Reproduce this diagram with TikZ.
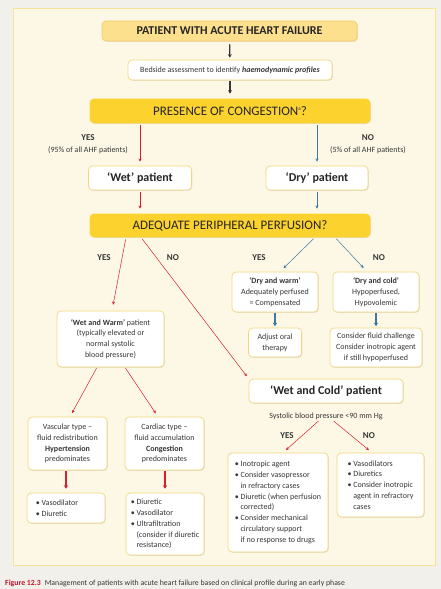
\documentclass[tikz,border=0pt]{standalone}
\usepackage{fontspec}
\setmainfont{Carlito}
\usetikzlibrary{calc, positioning, shadows, arrows.meta}

\definecolor{outerbg}{HTML}{F1F0EA}
\definecolor{panelbg}{HTML}{FDF8E6}
\definecolor{panelline}{HTML}{F6E39A}
\definecolor{headfill}{HTML}{FCE08E}
\definecolor{headline}{HTML}{F4CC66}
\definecolor{askfill}{HTML}{FCD22E}
\definecolor{boxline}{HTML}{F3D77A}
\definecolor{ink}{HTML}{363636}
\definecolor{wetred}{HTML}{D6202F}
\definecolor{dryblue}{HTML}{3F77A2}
\definecolor{figred}{HTML}{C4122F}

\newcommand{\smallfont}{\fontsize{8}{10.8}\selectfont}
\newcommand{\blt}{\textbullet\ }
\newcommand{\bltgap}{\phantom{\textbullet\ }}

\begin{document}
\begin{tikzpicture}[x=1pt, y=-1pt,
    box/.style={draw=boxline, line width=.7pt, rounded corners=4pt, fill=white, text=ink, align=center, inner sep=1pt, font=\smallfont, drop shadow={shadow xshift=.8pt, shadow yshift=-.8pt, opacity=.2}},
    headbox/.style={box, fill=headfill, draw=headline, text=black!85, font=\fontsize{12}{13}\selectfont\bfseries},
    askbox/.style={box, fill=askfill, draw=askfill, text=black!85, font=\fontsize{13}{14}\selectfont},
    patbox/.style={box, text=black!85, font=\fontsize{12}{13}\selectfont\bfseries},
    lbl/.style={text=ink, font=\smallfont, inner sep=0pt, align=center},
    yesno/.style={lbl, font=\fontsize{9}{10}\selectfont\bfseries},
    redarr/.style={draw=wetred, line width=.5pt, -{Stealth[length=3.2pt, width=3pt]}},
    bluearr/.style={draw=dryblue, line width=.5pt, -{Stealth[length=3.2pt, width=3pt]}},
    redthick/.style={draw=wetred, line width=1.2pt, -{Stealth[length=3.5pt, width=4.5pt]}},
    bluethick/.style={draw=dryblue, line width=1.2pt, -{Stealth[length=3.5pt, width=4.5pt]}}]
    \useasboundingbox (0,0) rectangle (441,589);
    \fill[outerbg] (0,0) rectangle (441,589);
    \draw[panelline, fill=panelbg, line width=.8pt] (13,8) rectangle (435,565);

    %Top of the chart
    \node (top) at (229.5,31) [headbox, minimum width=255pt, minimum height=20pt] {PATIENT WITH ACUTE HEART FAILURE};
    \node (bedside) at (230,70) [box, minimum width=204pt, minimum height=20pt] {Bedside assessment to identify \textbf{\itshape haemodynamic profiles}};
    \node (congest) at (230,111) [askbox, minimum width=280pt, minimum height=24pt] {PRESENCE OF CONGESTION\raisebox{4.5pt}{\fontsize{5}{5}\selectfont a}?};
    \node (wet) at (140,178) [patbox, minimum width=103pt, minimum height=24pt] {‘Wet’ patient};
    \node (dry) at (317,178) [patbox, minimum width=102pt, minimum height=24pt] {‘Dry’ patient};
    \node (adeq) at (230,225.5) [askbox, minimum width=280pt, minimum height=23pt] {ADEQUATE PERIPHERAL PERFUSION?};

    \node (yes1) at (88,138) [yesno] {YES};
    \node (yes1b) at (88,150) [lbl] {(95\% of all AHF patients)};
    \node (no1) at (368,138) [yesno] {NO};
    \node (no1b) at (368,150) [lbl] {(5\% of all AHF patients)};

    %Dry side
    \node (drywarm) at (275,292) [box, minimum width=86pt, minimum height=40pt] {\textbf{‘Dry and warm’}\\Adequately perfused\\= Compensated};
    \node (drycold) at (376,292) [box, minimum width=86pt, minimum height=40pt] {\textbf{‘Dry and cold’}\\Hypoperfused,\\Hypovolemic};
    \node (adjust) at (275,342.5) [box, minimum width=53pt, minimum height=29pt] {Adjust oral\\therapy};
    \node (fluid) at (376,347.5) [box, minimum width=92pt, minimum height=39pt] {Consider fluid challenge\\Consider inotropic agent\\if still hypoperfused};
    \node (yes3) at (259,258) [yesno] {YES};
    \node (no3) at (379,258) [yesno] {NO};

    %Wet and warm side
    \node (wetwarm) at (110.5,339) [box, minimum width=107pt, minimum height=56pt] {\textbf{‘Wet and Warm’} patient\\(typically elevated or\\normal systolic\\blood pressure)};
    \node (yes2) at (104,258) [yesno] {YES};
    \node (no2) at (173,258) [yesno] {NO};
    \node (vascular) at (67.5,443.5) [box, minimum width=79pt, minimum height=53pt] {Vascular type –\\fluid redistribution\\\textbf{Hypertension}\\predominates};
    \node (cardiac) at (164.5,443.5) [box, minimum width=79pt, minimum height=53pt] {Cardiac type –\\fluid accumulation\\\textbf{Congestion}\\predominates};
    \node (vaso) at (66,508) [box, align=left, minimum width=78pt, minimum height=30pt] {\blt Vasodilator\hspace*{18pt}\\\blt Diuretic};
    \node (diur) at (165,524) [box, align=left, minimum width=78pt, minimum height=62pt] {\blt Diuretic\\\blt Vasodilator\\\blt Ultrafiltration\\\bltgap(consider if diuretic\\\bltgap resistance)};

    %Wet and cold side
    \node (wetcold) at (326,391) [patbox, minimum width=154pt, minimum height=24pt] {‘Wet and Cold’ patient};
    \node (sbp) at (326,416) [lbl] {Systolic blood pressure <90 mm Hg};
    \node (yes4) at (287,436) [yesno] {YES};
    \node (no4) at (369,436) [yesno] {NO};
    \node (ino) at (278,502.5) [box, align=left, minimum width=100pt, minimum height=99pt] {\blt Inotropic agent\\\blt Consider vasopressor\\\bltgap in refractory cases\\\blt Diuretic (when perfusion\\\bltgap corrected)\\\blt Consider mechanical\\\bltgap circulatory support\\\bltgap if no response to drugs};
    \node (vasos) at (380.5,485) [box, align=left, minimum width=87pt, minimum height=64pt] {\blt Vasodilators\\\blt Diuretics\\\blt Consider inotropic\\\bltgap agent in refractory\\\bltgap cases};

    %Connectors
    \draw[-{Stealth[length=3.5pt, width=4pt]}, line width=1.2pt, ink, shorten <=3pt, shorten >=2pt] (top) -- (bedside);
    \draw[-{Stealth[length=3.5pt, width=4pt]}, line width=1.2pt, ink, shorten <=1pt, shorten >=5pt] (bedside) -- (congest);
    \draw[redarr, shorten <=2pt, shorten >=4pt] (congest.south -| wet) -- (wet.north);
    \draw[bluearr, shorten <=2pt, shorten >=4pt] (congest.south -| dry) -- (dry.north);
    \draw[redarr, shorten <=2pt, shorten >=5pt] (wet) -- (adeq.north -| wet);
    \draw[bluearr, shorten <=2pt, shorten >=5pt] (dry) -- (adeq.north -| dry);
    \draw[redarr, shorten <=2pt, shorten >=6pt] ([xshift=-104pt]adeq.south) -- ([xshift=1.5pt]wetwarm.north);
    \draw[redarr, shorten <=2pt, shorten >=3pt] ([xshift=-89pt]adeq.south) -- (wetcold.north west);
    \draw[bluearr, shorten <=2pt, shorten >=5pt] ([xshift=85pt]adeq.south) -- ([xshift=5pt]drywarm.north);
    \draw[bluearr, shorten <=2pt, shorten >=5pt] ([xshift=105pt]adeq.south) -- ([xshift=-9pt]drycold.north);
    \draw[bluethick, shorten <=1pt, shorten >=1.5pt] (drywarm) -- (adjust);
    \draw[bluethick, shorten <=1pt, shorten >=1.5pt] (drycold) -- (fluid);
    \draw[redarr, shorten <=1pt, shorten >=4pt] ([xshift=-13.5pt]wetwarm.south) -- ([xshift=2.5pt]vascular.north);
    \draw[redarr, shorten <=1pt, shorten >=4pt] ([xshift=14.5pt]wetwarm.south) -- ([xshift=-6.5pt]cardiac.north);
    \draw[redthick, shorten <=1pt, shorten >=4pt] (vascular.south -| vaso) -- (vaso.north);
    \draw[redthick, shorten <=1pt, shorten >=4pt] (cardiac.south -| diur) -- (diur.north);
    \draw[redarr, shorten <=2pt, shorten >=4pt] ([xshift=-6pt]sbp.south) -- ([xshift=5pt]ino.north);
    \draw[redarr, shorten <=2pt, shorten >=4pt] ([xshift=6pt]sbp.south) -- ([xshift=-8.5pt]vasos.north);

    %Caption
    \node (caption) at (5,583) [anchor=west, inner sep=0pt, text=ink, font=\fontsize{7.8}{9}\selectfont] {\textcolor{figred}{\bfseries Figure 12.3}\enspace Management of patients with acute heart failure based on clinical profile during an early phase};
\end{tikzpicture}
\end{document}
